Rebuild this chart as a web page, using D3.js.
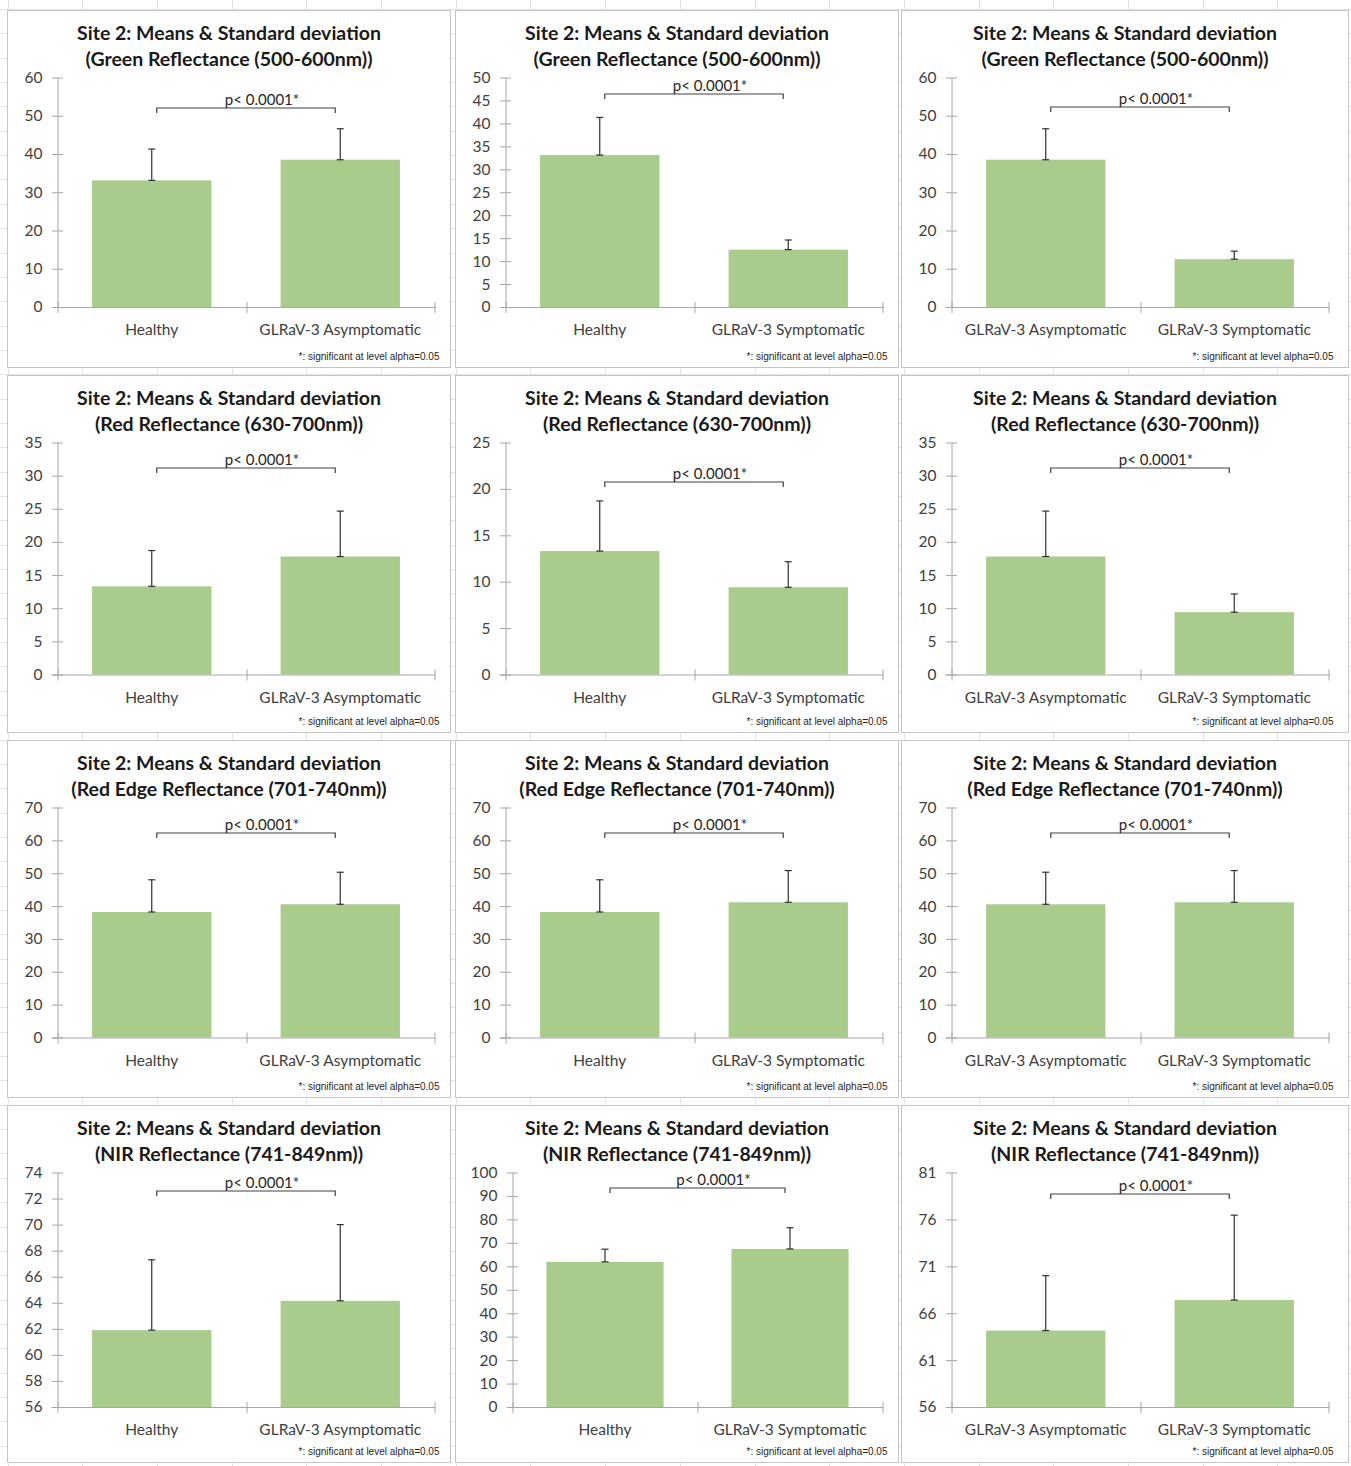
<!DOCTYPE html>
<html>
<head>
<meta charset="utf-8">
<script src="https://cdn.jsdelivr.net/npm/d3@7"></script>
<style>
  html, body { margin: 0; padding: 0; background: #ffffff; }
  svg { display: block; }
</style>
</head>
<body>
<svg id="chart" width="1351" height="1466"></svg>
<script>
// Spectral bands (one row of panels each)
const bands = [
  "Green Reflectance (500-600nm)",
  "Red Reflectance (630-700nm)",
  "Red Edge Reflectance (701-740nm)",
  "NIR Reflectance (741-849nm)"
];

// Vine groups
const groups = ["Healthy", "GLRaV-3 Asymptomatic", "GLRaV-3 Symptomatic"];

// Means and standard deviations, in group order
const greenMean   = [33.1, 38.5, 12.5];
const greenSD     = [8.2, 8.1, 2.1];
const redMean     = [13.3, 17.8, 9.4];
const redSD       = [5.4, 6.85, 2.75];
const redEdgeMean = [38.2, 40.55, 41.15];
const redEdgeSD   = [9.8, 9.75, 9.65];
const nirMean     = [61.9, 64.15, 67.4];
const nirSD       = [5.4, 5.85, 9.05];

const bandMeans = [greenMean, redMean, redEdgeMean, nirMean];
const bandSDs   = [greenSD, redSD, redEdgeSD, nirSD];

// Pairwise comparisons (one column of panels each)
const comparisons = [[0, 1], [0, 2], [1, 2]];

// Y-axis ranges per panel: [min, max, step]
const yRanges = [
  [[0, 60, 10], [0, 50, 5],  [0, 60, 10]],
  [[0, 35, 5],  [0, 25, 5],  [0, 35, 5]],
  [[0, 70, 10], [0, 70, 10], [0, 70, 10]],
  [[56, 74, 2], [0, 100, 10], [56, 81, 5]]
];

// Level of the significance bracket, in data units
const bracketLevels = [
  [52.2, 46.6, 52.3],
  [31.2, 20.85, 31.2],
  [62.5, 62.3, 62.3],
  [72.6, 93.6, 78.8]
];

const pLabel = "p< 0.0001*";
const titleLine1 = "Site 2: Means & Standard deviation";
const footnote = "*: significant at level alpha=0.05";

// ---- layout ----
const svg = d3.select("#chart");
const colX = [7.5, 455.5, 901.5];
const colW = [443, 443, 447];
const rowY = [10.5, 375.5, 740.5, 1105.5];
const rowPlotBottom = [296.5, 299, 297, 301.5];
const panelH = 357;

const barColor = "#a9cb8b";
const axisColor = "#a6a6a6";
const inkColor = "#404040";
const font = "Lato, 'Open Sans', sans-serif";

// spreadsheet cell grid behind the chart objects
const gridG = svg.append("g").attr("stroke", "#e3e3e3").attr("stroke-width", 1);
gridG.selectAll("line.v")
  .data(d3.range(7.5, 1351, 74.7))
  .join("line")
  .attr("x1", d => Math.round(d) + 0.5).attr("x2", d => Math.round(d) + 0.5)
  .attr("y1", 0).attr("y2", 1466);
gridG.selectAll("line.h")
  .data(d3.range(9, 1466, 24.35))
  .join("line")
  .attr("y1", d => Math.round(d) + 0.5).attr("y2", d => Math.round(d) + 0.5)
  .attr("x1", 0).attr("x2", 1351);

bands.forEach((band, r) => {
  comparisons.forEach((pair, c) => {
    const [ymin, ymax, ystep] = yRanges[r][c];
    const g = svg.append("g").attr("transform", `translate(${colX[c]},${rowY[r]})`);

    // chart area
    g.append("rect")
      .attr("width", colW[c]).attr("height", panelH)
      .attr("fill", "#ffffff").attr("stroke", "#c4c4c4").attr("stroke-width", 1);

    // title
    const title = g.append("text")
      .attr("text-anchor", "middle")
      .attr("font-family", font).attr("font-weight", 700)
      .attr("font-size", 19.5).attr("fill", "#1a1a1a");
    title.append("tspan").attr("x", colW[c] / 2).attr("y", 29.5).text(titleLine1);
    title.append("tspan").attr("x", colW[c] / 2).attr("y", 55.5).text(`(${band})`);

    // plot area
    const left = ymax >= 100 ? 57 : 50;
    const right = 427;
    const top = 67;
    const bottom = rowPlotBottom[r];

    const y = d3.scaleLinear().domain([ymin, ymax]).range([bottom, top]);
    const cats = pair.map(i => groups[i]);
    const x = d3.scaleBand().domain(cats).range([left, right]).paddingInner(0.367).paddingOuter(0.1835);

    const rows = pair.map(i => ({ group: groups[i], mean: bandMeans[r][i], sd: bandSDs[r][i] }));

    // bars
    g.append("g").selectAll("rect")
      .data(rows)
      .join("rect")
      .attr("x", d => x(d.group))
      .attr("width", x.bandwidth())
      .attr("y", d => y(d.mean))
      .attr("height", d => y(ymin) - y(d.mean))
      .attr("fill", barColor);

    // y axis
    const yAxis = g.append("g")
      .attr("transform", `translate(${left},0)`)
      .call(d3.axisLeft(y).tickValues(d3.range(ymin, ymax + ystep / 2, ystep)).tickSize(6).tickPadding(9).tickFormat(d3.format("d")));
    yAxis.select(".domain").attr("stroke", axisColor).attr("d", `M0.5,${top}V${bottom}`);
    yAxis.selectAll(".tick line").attr("stroke", axisColor).attr("x1", 5.5).attr("x2", -5.5);
    yAxis.selectAll(".tick text")
      .attr("font-family", font).attr("font-size", 15.5).attr("fill", inkColor).attr("x", -15);

    // x axis: category labels and boundary ticks
    const xAxis = g.append("g")
      .attr("transform", `translate(0,${bottom})`)
      .call(d3.axisBottom(x).tickSize(0).tickPadding(17));
    xAxis.select(".domain").attr("stroke", axisColor).attr("d", `M${left - 6},0.5H${right + 1}`);
    xAxis.selectAll(".tick text")
      .attr("font-family", font).attr("font-size", 15.5).attr("fill", inkColor);
    xAxis.selectAll("line.bound")
      .data([left, left + x.step(), right])
      .join("line")
      .attr("class", "bound")
      .attr("x1", d => Math.round(d) + 0.5).attr("x2", d => Math.round(d) + 0.5)
      .attr("y1", -5).attr("y2", 6)
      .attr("stroke", axisColor);

    // error bars (mean to mean + SD)
    const eb = g.append("g").attr("stroke", "#303030").attr("stroke-width", 1.2);
    rows.forEach(d => {
      const cx = x(d.group) + x.bandwidth() / 2;
      eb.append("line").attr("x1", cx).attr("x2", cx).attr("y1", y(d.mean)).attr("y2", y(d.mean + d.sd));
      eb.append("line").attr("x1", cx - 3.5).attr("x2", cx + 3.5).attr("y1", y(d.mean + d.sd)).attr("y2", y(d.mean + d.sd));
      eb.append("line").attr("x1", cx - 3.5).attr("x2", cx + 3.5).attr("y1", y(d.mean)).attr("y2", y(d.mean));
    });

    // significance bracket
    const x1 = x(cats[0]) + x.bandwidth() / 2 + 5;
    const x2 = x(cats[1]) + x.bandwidth() / 2 - 5;
    const by = Math.round(y(bracketLevels[r][c])) + 0.5;
    g.append("path")
      .attr("d", `M${x1},${by + 5}V${by}H${x2}V${by + 5}`)
      .attr("fill", "none").attr("stroke", "#404040").attr("stroke-width", 1.2);
    g.append("text")
      .attr("x", (x1 + x2) / 2 + 16).attr("y", by - 3)
      .attr("text-anchor", "middle")
      .attr("font-family", font).attr("font-size", 15).attr("fill", "#262626")
      .text(pLabel);

    // footnote
    g.append("text")
      .attr("x", 432).attr("y", 349.5)
      .attr("text-anchor", "end")
      .attr("font-family", "'Liberation Sans', Arial, sans-serif").attr("font-size", 10).attr("fill", "#262626")
      .text(footnote);
  });
});
</script>
</body>
</html>
